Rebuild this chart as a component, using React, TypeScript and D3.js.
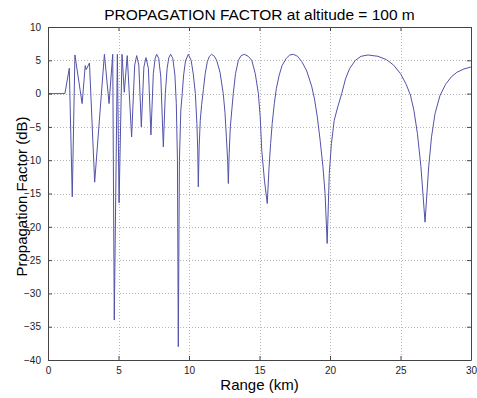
import React, { useEffect, useRef } from "react";
import * as d3 from "d3";

const W = 477;
const H = 398;
const M = { left: 48, right: 6, top: 27, bottom: 38 };

const titleText = "PROPAGATION FACTOR at altitude = 100 m";
const xLabel = "Range (km)";
const yLabel = "Propagation Factor (dB)";

const xTicks = [0, 5, 10, 15, 20, 25, 30];
const yTicks = [-40, -35, -30, -25, -20, -15, -10, -5, 0, 5, 10];

const rangeKm = [
  0, 1.2, 1.51, 1.72, 1.91, 2.42, 2.64, 2.71, 2.94, 3.31,
  4.0, 4.33, 4.59, 4.7, 4.92, 5.04, 5.25, 5.41, 5.62, 5.93,
  6.15, 6.29, 6.44, 6.62, 6.8, 6.95, 7.12, 7.3, 7.47, 7.6,
  7.71, 7.85, 8.0, 8.18, 8.32, 8.45, 8.57, 8.7, 8.85, 9.0,
  9.1, 9.18, 9.24, 9.32, 9.42, 9.52, 9.62, 9.75, 9.95, 10.15,
  10.3, 10.45, 10.56, 10.62, 10.66, 10.72, 10.8, 10.9, 11.02, 11.15,
  11.3, 11.45, 11.6, 11.8, 11.96, 12.2, 12.43, 12.55, 12.65, 12.74,
  12.79, 12.85, 12.93, 13.14, 13.3, 13.5, 13.7, 13.92, 14.2, 14.45,
  14.7, 14.92, 15.05, 15.16, 15.35, 15.55, 15.68, 15.79, 15.9, 16.05,
  16.2, 16.4, 16.6, 16.9, 17.15, 17.4, 17.7, 18.0, 18.35, 18.7,
  18.9, 19.1, 19.3, 19.5, 19.65, 19.8, 19.95, 20.1, 20.3, 20.55,
  20.83, 21.1, 21.4, 21.8, 22.2, 22.7, 23.4, 24.0, 24.5, 25.0,
  25.4, 25.7, 25.95, 26.2, 26.45, 26.74, 27.0, 27.2, 27.45, 27.8,
  28.2, 28.6, 29.0, 29.5, 30.0,
];

const factorDb = [
  0, 0, 3.8, -15.5, 5.8, -1.5, 4.2, 3.6, 4.6, -13.3,
  5.9, -1.5, 5.9, -34, 5.9, -16.4, 5.9, 0.2, 5.7, -6.5,
  4.3, 5.7, 4.3, -5, 4.0, 5.4, 3.8, -6.2, 3.0, 5.3,
  5.9, 5.3, 2.5, -8, 0, 3.8, 5.4, 5.9, 5.3, 2.8,
  -1.5, -10, -38, -10, -2.5, 0, 2.8, 4.9, 5.9, 5.0,
  3.0, 0, -4.5, -8.5, -14, -8, -4, -1.6, 0.6, 3.0,
  4.8, 5.6, 5.9, 5.6, 5.0, 3.2, 0, -2.8, -6.5, -10,
  -13.5, -9, -5, 0, 3, 5, 5.7, 5.9, 5.6, 5.0,
  3.0, 0, -3.5, -8.5, -13, -16.5, -11, -7.5, -4.5, -1.5,
  0.8, 2.8, 4.2, 5.3, 5.8, 5.9, 5.6, 4.8, 3.4, 1.1,
  -0.8, -3.5, -7, -11, -15, -22.5, -12, -7.5, -4, -2,
  0, 2.2, 3.8, 5.0, 5.6, 5.8, 5.6, 5.1, 4.3, 3.0,
  1.4, -0.2, -2.5, -6, -11, -19.3, -11, -6.5, -3, -0.3,
  1.4, 2.5, 3.2, 3.7, 4.0,
];

const FONT = "'Liberation Sans', Arial, Helvetica, sans-serif";

export default function App() {
  const ref = useRef<SVGSVGElement>(null);

  useEffect(() => {
    const svg = d3.select(ref.current);
    svg.selectAll("*").remove();

    const x = d3.scaleLinear().domain([0, 30]).range([M.left, W - M.right]);
    const y = d3.scaleLinear().domain([-40, 10]).range([H - M.bottom, M.top]);

    svg.append("rect").attr("width", W).attr("height", H).attr("fill", "#fff");

    // grid
    const grid = svg.append("g").attr("stroke", "#9a9a9a").attr("stroke-width", 0.7).attr("stroke-dasharray", "1,2");
    grid.selectAll("line.gx").data(xTicks.slice(1, -1)).join("line")
      .attr("x1", (d) => Math.round(x(d)) + 0.5).attr("x2", (d) => Math.round(x(d)) + 0.5)
      .attr("y1", M.top).attr("y2", H - M.bottom);
    grid.selectAll("line.gy").data(yTicks.slice(1, -1)).join("line")
      .attr("y1", (d) => Math.round(y(d)) + 0.5).attr("y2", (d) => Math.round(y(d)) + 0.5)
      .attr("x1", M.left).attr("x2", W - M.right);

    // data line
    const data = rangeKm.map((r, i) => [r, factorDb[i]] as [number, number]);
    const line = d3.line<[number, number]>().x((d) => x(d[0])).y((d) => y(d[1]));
    svg.append("path").attr("d", line(data)!).attr("fill", "none")
      .attr("stroke", "#5252aa").attr("stroke-width", 1).attr("stroke-linejoin", "round");

    // axes
    const axisColor = "#444";
    const gB = svg.append("g").attr("transform", `translate(0,${H - M.bottom})`)
      .call(d3.axisBottom(x).tickValues(xTicks).tickSizeInner(-4).tickSizeOuter(0).tickPadding(7));
    const gT = svg.append("g").attr("transform", `translate(0,${M.top})`)
      .call(d3.axisTop(x).tickValues(xTicks).tickSizeInner(-4).tickSizeOuter(0).tickFormat(() => ""));
    const gL = svg.append("g").attr("transform", `translate(${M.left},0)`)
      .call(d3.axisLeft(y).tickValues(yTicks).tickSizeInner(-4).tickSizeOuter(0).tickPadding(7));
    const gR = svg.append("g").attr("transform", `translate(${W - M.right},0)`)
      .call(d3.axisRight(y).tickValues(yTicks).tickSizeInner(-4).tickSizeOuter(0).tickFormat(() => ""));
    [gB, gT, gL, gR].forEach((g) => {
      g.selectAll("path").attr("stroke", axisColor);
      g.selectAll("line").attr("stroke", axisColor);
      g.selectAll("text").attr("fill", "#222").style("font-family", FONT).style("font-size", "10px");
    });

    svg.append("text").attr("x", (M.left + W - M.right) / 2).attr("y", 20)
      .attr("text-anchor", "middle").style("font-family", FONT).style("font-size", "15.5px").attr("fill", "#000")
      .text(titleText);
    svg.append("text").attr("x", (M.left + W - M.right) / 2).attr("y", 390)
      .attr("text-anchor", "middle").style("font-family", FONT).style("font-size", "15px").attr("fill", "#000")
      .text(xLabel);
    svg.append("text").attr("transform", `translate(27,${(M.top + H - M.bottom) / 2 + 3}) rotate(-90)`)
      .attr("text-anchor", "middle").style("font-family", FONT).style("font-size", "15px").attr("fill", "#000")
      .text(yLabel);
  }, []);

  return (
    <div style={{ position: "absolute", left: 0, top: 0 }}>
      <svg ref={ref} width={W} height={H} style={{ display: "block" }} />
    </div>
  );
}
